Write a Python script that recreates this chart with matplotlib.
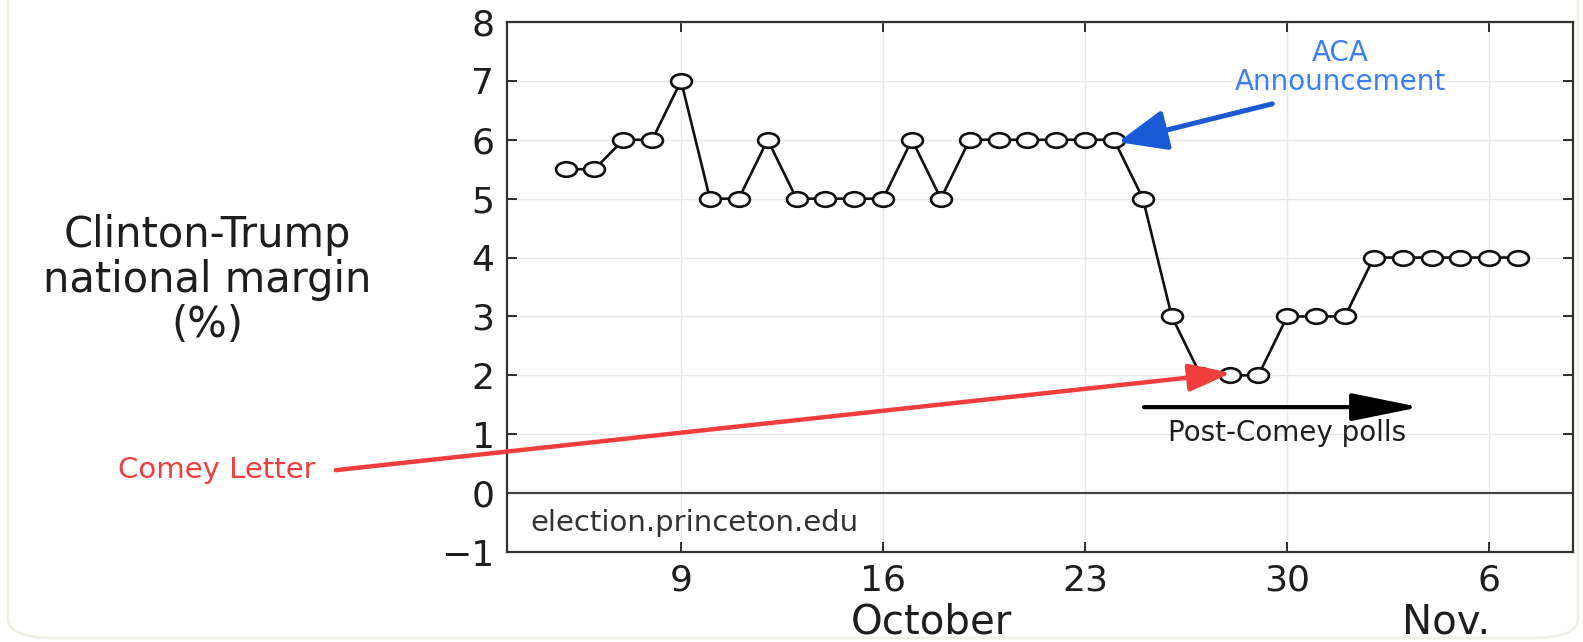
import numpy as np
import matplotlib
matplotlib.use("Agg")
import matplotlib.pyplot as plt
from matplotlib.path import Path
from matplotlib.transforms import Affine2D
from matplotlib.patches import FancyBboxPatch

# daily poll margin, Oct 5 .. Nov 7 (Nov 1 = day 32)
days = list(range(5, 39))
margin = [5.5, 5.5, 6, 6, 7, 5, 5, 6, 5, 5, 5, 5, 6, 5, 6, 6, 6, 6, 6, 6,
          5, 3, 2, 2, 2, 3, 3, 3, 4, 4, 4, 4, 4, 4]
tick_days = [9, 16, 23, 30, 37]
tick_labels = ["9", "16", "23", "30", "6"]
y_ticks = list(range(-1, 9))

plt.rcParams['font.family'] = ['DejaVu Sans']

fig = plt.figure(figsize=(15.83, 6.42), dpi=100)
W, H = 1583, 642

# faint rounded frame of the screenshot
frame = FancyBboxPatch((8 / W, 4 / H), 1570 / W, 680 / H,
                       boxstyle="round,pad=0,rounding_size=0.03",
                       transform=fig.transFigure, fc="none", ec="#f0f0e6", lw=2)
fig.patches.append(frame)

ax = fig.add_axes([507 / W, (H - 552) / H, (1573 - 507) / W, (552 - 22) / H])

# squashed circle marker (the source picture is stretched sideways)
ell = Path.unit_circle().transformed(Affine2D().scale(1.0, 0.7))

ax.plot(days, margin, color="#111111", lw=1.9, marker=ell, markersize=15,
        markerfacecolor="white", markeredgecolor="#111111", markeredgewidth=1.9,
        zorder=3)
ax.axhline(0, color="#444444", lw=1.6, zorder=2)

ax.set_xlim(2.97, 39.9)
ax.set_ylim(-1, 8)
ax.set_xticks(tick_days)
ax.set_xticklabels(tick_labels)
ax.set_yticks(y_ticks)
ax.set_yticklabels([str(v).replace("-", "\u2212") for v in y_ticks])
ax.grid(True, color="#e8e8e8", lw=1.0, zorder=0)
ax.tick_params(direction="in", length=7, width=1.3, top=True, right=True,
               labelsize=26, colors="#1e1e1e", pad=8)
ax.tick_params(axis="y", pad=9)
for s in ax.spines.values():
    s.set_color("#333333")
    s.set_linewidth(1.6)

# y label, placed as free text
fig.text(207 / W, 1 - 280 / H, "Clinton-Trump\nnational margin\n(%)",
         ha="center", va="center", fontsize=30, color="#1e1e1e",
         linespacing=1.1)

# month labels
ax.text(17.66, -2.19, "October", ha="center", va="center", fontsize=29,
        color="#1e1e1e", clip_on=False)
ax.text(35.5, -2.19, "Nov.", ha="center", va="center", fontsize=29,
        color="#1e1e1e", clip_on=False)

ax.text(3.77, -0.51, "election.princeton.edu", ha="left", va="center",
        fontsize=21, color="#333333")

# ACA annotation
ax.text(31.83, 7.22, "ACA\nAnnouncement", ha="center", va="center",
        fontsize=20, color="#3a7ff5", linespacing=1.05)
ax.annotate("", xy=(24.14, 5.96), xytext=(29.48, 6.61),
            arrowprops=dict(arrowstyle="-|>,head_length=3.0,head_width=1.25",
                            color="#1a5ad6", lw=3.6, shrinkA=0, shrinkB=0),
            zorder=5)

# Comey letter annotation
ax.annotate("", xy=(28.06, 2.04), xytext=(-2.96, 0.39),
            arrowprops=dict(arrowstyle="-|>,head_length=2.6,head_width=0.85",
                            color="#f03e3e", lw=3.2, shrinkA=0, shrinkB=0),
            annotation_clip=False, zorder=5)
ax.text(-3.65, 0.39, "Comey Letter", ha="right", va="center", fontsize=21,
        color="#f03e3e", clip_on=False)

# post-Comey polls arrow
ax.annotate("", xy=(34.6, 1.46), xytext=(25.04, 1.46),
            arrowprops=dict(arrowstyle="-|>,head_length=4.2,head_width=0.85",
                            color="black", lw=3.0, shrinkA=0, shrinkB=0),
            zorder=5)
ax.text(30.0, 1.02, "Post-Comey polls", ha="center", va="center",
        fontsize=20, color="#1e1e1e")

fig.savefig("out.png", dpi=100)
